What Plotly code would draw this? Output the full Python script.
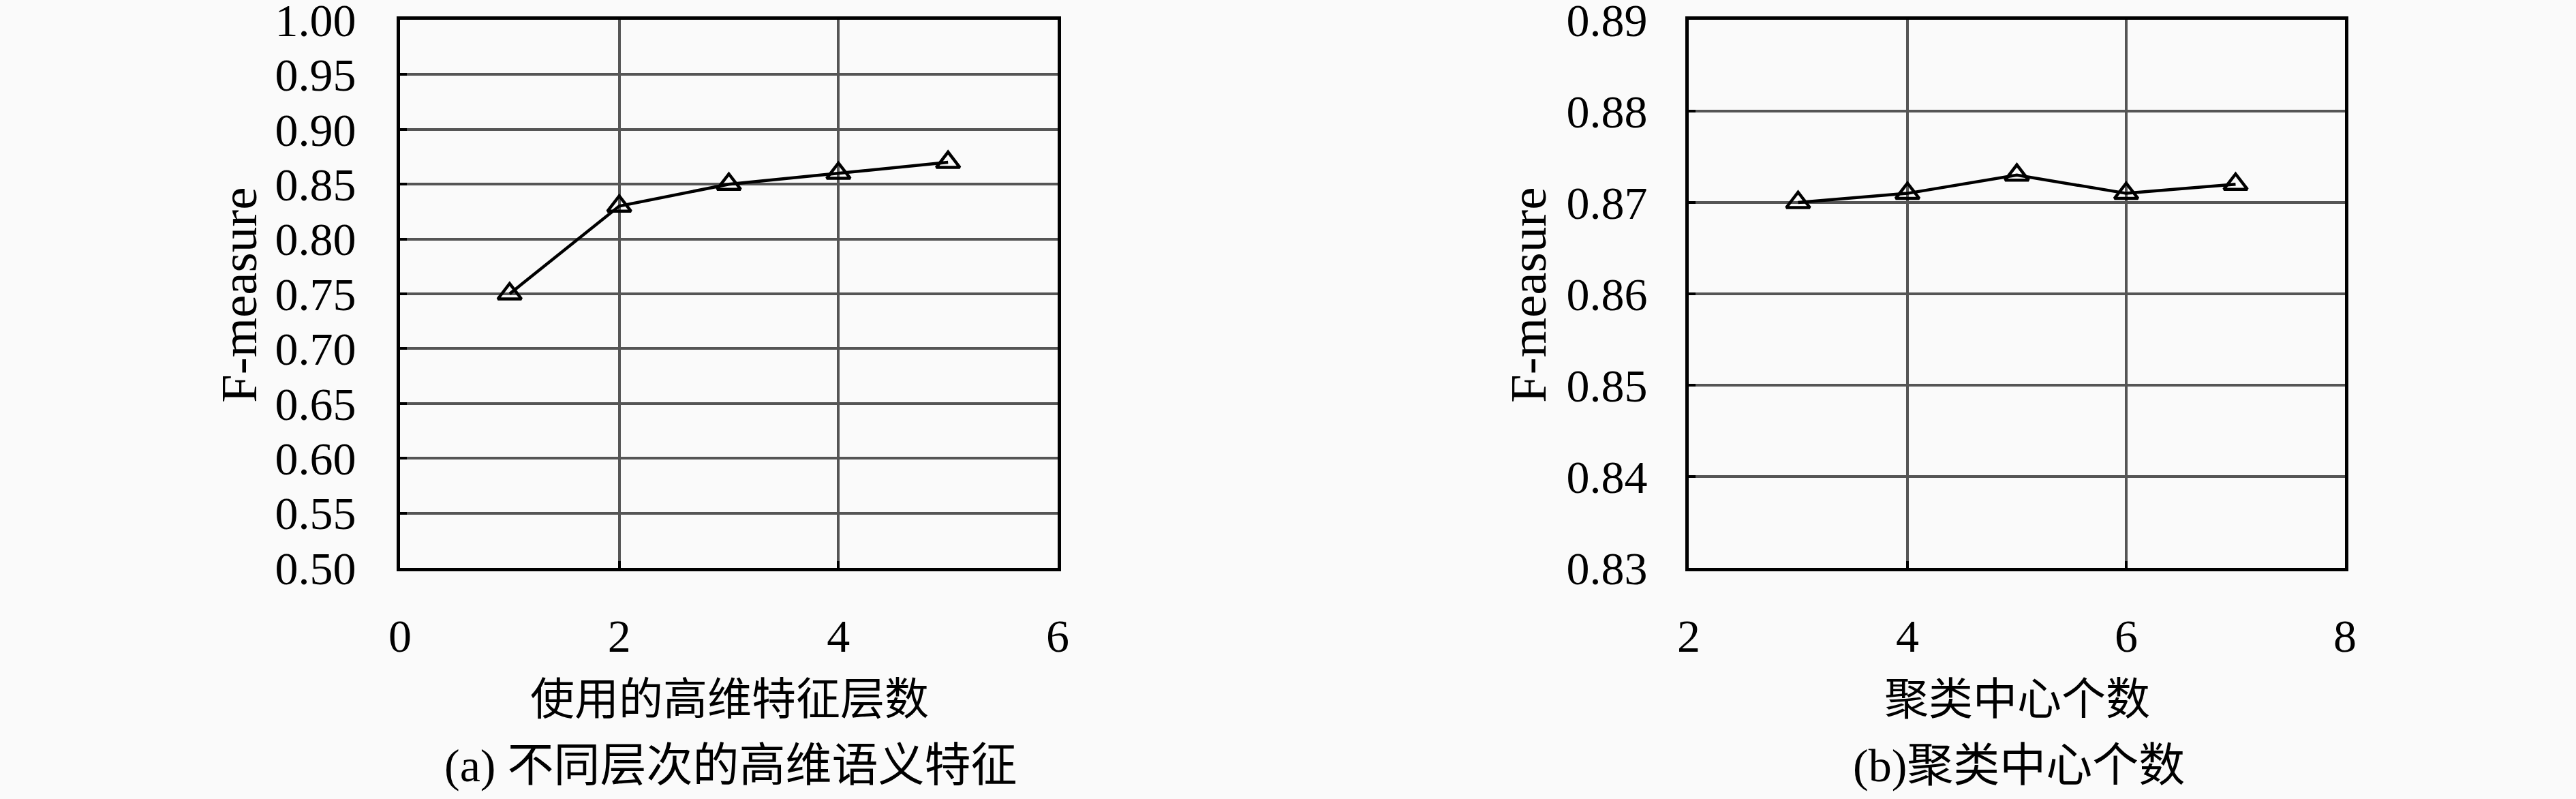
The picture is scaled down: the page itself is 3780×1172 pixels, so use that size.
import plotly.graph_objects as go

# Data
layers = [1, 2, 3, 4, 5]
f_layers = [0.75, 0.83, 0.85, 0.86, 0.87]
centers = [3, 4, 5, 6, 7]
f_centers = [0.870, 0.871, 0.873, 0.871, 0.872]

y1_ticks = [0.50, 0.55, 0.60, 0.65, 0.70, 0.75, 0.80, 0.85, 0.90, 0.95, 1.00]
y2_ticks = [0.83, 0.84, 0.85, 0.86, 0.87, 0.88, 0.89]
x1_ticks = [0, 2, 4, 6]
x2_ticks = [2, 4, 6, 8]

xtitle_a = "使用的高维特征层数"
xtitle_b = "聚类中心个数"
ytitle = "F-measure"
caption_a = "(a) 不同层次的高维语义特征"
caption_b = "(b)聚类中心个数"

W, H = 3780, 1172
FONT = "Liberation Serif, Noto Sans CJK SC, serif"
CJK = "Noto Sans CJK SC, sans-serif"
BG = "#fafafa"

fig = go.Figure()
mk = dict(symbol="triangle-up-open", size=30, color="black", line=dict(width=4.5, color="black"))
fig.add_trace(go.Scatter(x=layers, y=f_layers, mode="lines+markers",
                         line=dict(color="black", width=4.5), marker=mk,
                         xaxis="x", yaxis="y", showlegend=False, cliponaxis=False))
fig.add_trace(go.Scatter(x=centers, y=f_centers, mode="lines+markers",
                         line=dict(color="black", width=4.5), marker=mk,
                         xaxis="x2", yaxis="y2", showlegend=False, cliponaxis=False))

def px(x):
    return x / W

def py(y):
    return 1 - y / H

ax_common = dict(showline=True, linecolor="black", linewidth=5, mirror=True,
                 showgrid=True, gridcolor="#555555", gridwidth=3.5,
                 ticks="inside", ticklen=10, tickwidth=4, tickcolor="black",
                 tickfont=dict(family=FONT, size=68, color="black"),
                 ticklabeloverflow="allow", automargin=False,
                 zeroline=False, fixedrange=True)

dom_y = [py(833), py(29)]
fig.update_layout(
    width=W, height=H,
    paper_bgcolor=BG, plot_bgcolor=BG,
    margin=dict(l=0, r=0, t=0, b=0, pad=0, autoexpand=False),
    xaxis=dict(domain=[px(587), px(1552)], range=[0, 6], tickvals=x1_ticks,
               ticklabelstandoff=36, anchor="y", **ax_common),
    yaxis=dict(domain=dom_y, range=[0.5, 1.0], tickvals=y1_ticks,
               tickformat=".2f", ticklabelstandoff=46, anchor="x", **ax_common),
    xaxis2=dict(domain=[px(2478), px(3441)], range=[2, 8], tickvals=x2_ticks,
                ticklabelstandoff=36, anchor="y2", **ax_common),
    yaxis2=dict(domain=dom_y, range=[0.83, 0.89], tickvals=y2_ticks,
                tickformat=".2f", ticklabelstandoff=42, anchor="x2", **ax_common),
)

def txt(text, x, y, size, family, angle=0):
    return dict(text=text, x=px(x), y=py(y), xref="paper", yref="paper",
                xanchor="center", yanchor="middle", textangle=angle,
                showarrow=False, font=dict(family=family, size=size, color="black"))

ann = [
    txt(xtitle_a, 1070, 1020, 65, CJK),
    txt(xtitle_b, 2960, 1020, 65, CJK),
    txt(caption_a, 1072, 1123, 68, FONT),
    txt(caption_b, 2962, 1123, 68, FONT),
    txt(ytitle, 350, 433, 75, FONT, -90),
    txt(ytitle, 2242, 433, 75, FONT, -90),
]
fig.update_layout(annotations=ann)

fig.write_html("out.html", config={"displayModeBar": False},
               post_script="document.body.style.margin='0';document.body.style.background='#fafafa';")
